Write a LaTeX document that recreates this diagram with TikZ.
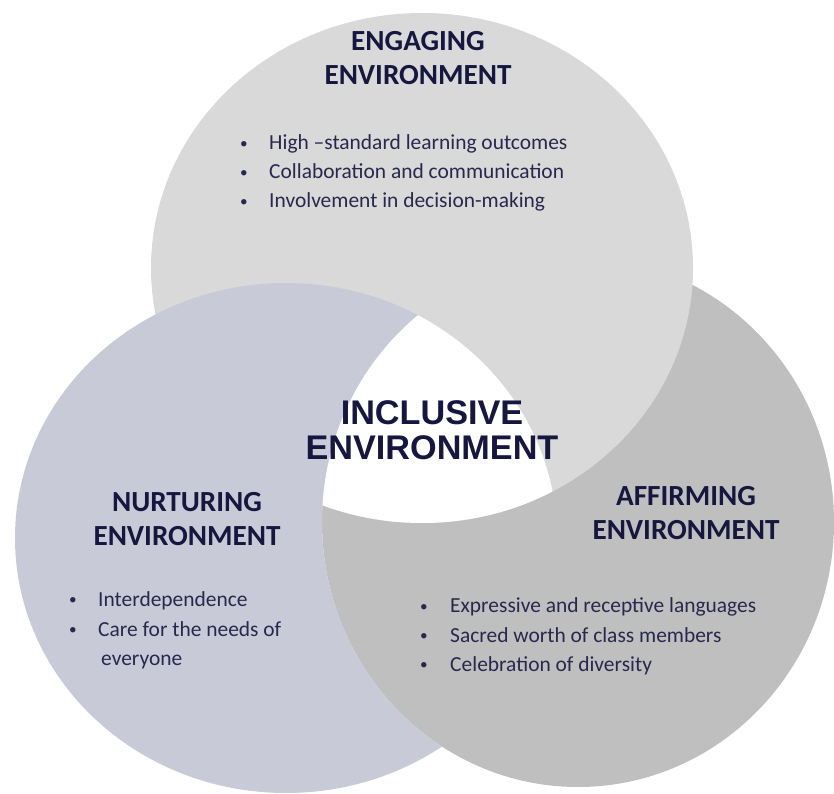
\documentclass[tikz,border=0pt]{standalone}
\usepackage{fontspec}
\setmainfont{Carlito}
\newfontfamily\hubfont{Liberation Sans}

\definecolor{engagefill}{HTML}{D9D9D9}
\definecolor{nurturefill}{HTML}{C8CAD8}
\definecolor{affirmfill}{HTML}{BFBFBF}
\definecolor{navy}{HTML}{16163F}
\definecolor{itemnavy}{HTML}{28284F}

\def\engagedisc{(422,268) ellipse [x radius=271, y radius=255]}
\def\nurturedisc{(286,538) ellipse [x radius=271, y radius=255]}
\def\affirmdisc{(578,522) ellipse [x radius=256, y radius=265]}

\begin{document}
\begin{tikzpicture}[x=0.03cm, y=-0.03cm,
	heading/.style={font=\bfseries\fontsize{24.9}{29}\selectfont, text=navy, align=center, inner sep=0pt},
	hub/.style={font=\hubfont\bfseries\fontsize{29.2}{29.9}\selectfont, text=navy, align=center, inner sep=0pt},
	item/.style={font=\fontsize{18.3}{22}\selectfont, text=itemnavy, anchor=base west, inner sep=0pt},
	itemdot/.style={font=\fontsize{13}{15}\selectfont, text=itemnavy, anchor=base, inner sep=0pt, yshift=1.5pt}]
	\useasboundingbox (0,0) rectangle (834,794);
	\fill[affirmfill] \affirmdisc;
	\fill[engagefill] \engagedisc;
	% nurturing disc goes over the engaging one but under the affirming one
	\begin{scope}[even odd rule]
		\clip (-10,-10) rectangle (850,810) \affirmdisc;
		\fill[nurturefill] \nurturedisc;
	\end{scope}
	\begin{scope}
		\clip \engagedisc;
		\clip \affirmdisc;
		\fill[white] \nurturedisc;
	\end{scope}
	\node[heading] (engage) at (418,58.5) {ENGAGING\\ENVIRONMENT};
	\node[heading] (nurture) at (187,519) {NURTURING\\ENVIRONMENT};
	\node[heading] (affirm) at (686,513) {AFFIRMING\\ENVIRONMENT};
	\node[hub] (inclusive) at (432,430) {INCLUSIVE\\ENVIRONMENT};
	\foreach \txt [count=\i] in {High –standard learning outcomes, Collaboration and communication, Involvement in decision-making} {
		\node[itemdot] (engdot\i) at (244,121+29*\i) {•};
		\node[item] (engitem\i) at (269,121+29*\i) {\txt};
	}
	\foreach \txt [count=\i] in {Interdependence, Care for the needs of} {
		\node[itemdot] (nurdot\i) at (73,576+30*\i) {•};
		\node[item] (nuritem\i) at (98,576+30*\i) {\txt};
	}
	\node[item] (nuritem3) at (101,665) {everyone};
	\foreach \txt [count=\i] in {Expressive and receptive languages, Sacred worth of class members, Celebration of diversity} {
		\node[itemdot] (affdot\i) at (424,583.5+29.3*\i) {•};
		\node[item] (affitem\i) at (450,583.5+29.3*\i) {\txt};
	}
\end{tikzpicture}
\end{document}
